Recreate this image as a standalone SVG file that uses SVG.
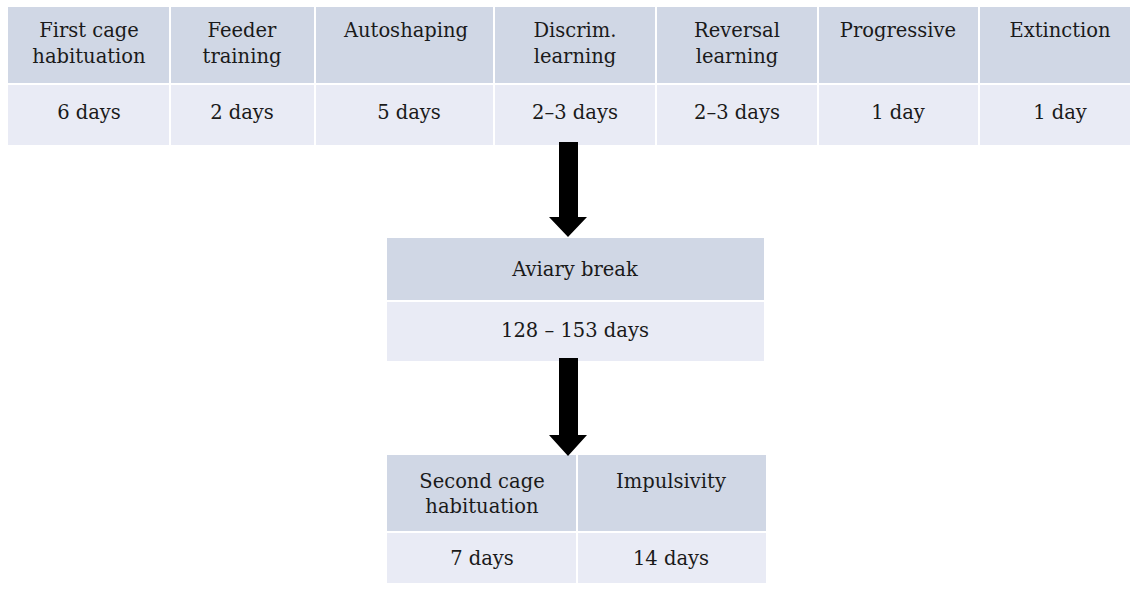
<svg xmlns="http://www.w3.org/2000/svg" width="1130" height="592" viewBox="0 0 1130 592">
<style>
.h{fill:#D0D7E5}
.b{fill:#E9EBF5}
text{font-family:"DejaVu Serif","Liberation Serif",serif;font-size:19.5px;fill:#1a1a1a;text-anchor:middle}
.arr{fill:#000}
</style>
<rect width="1130" height="592" fill="#fff"/>
<g id="top-table">
<g id="c1"><rect class="h" x="8" y="7" width="161" height="76"/><rect class="b" x="8" y="85" width="161" height="60"/>
<text x="89" y="37">First cage</text><text x="89" y="63">habituation</text><text x="89" y="119">6 days</text></g>
<g id="c2"><rect class="h" x="171" y="7" width="143" height="76"/><rect class="b" x="171" y="85" width="143" height="60"/>
<text x="242" y="37">Feeder</text><text x="242" y="63">training</text><text x="242" y="119">2 days</text></g>
<g id="c3"><rect class="h" x="316" y="7" width="177" height="76"/><rect class="b" x="316" y="85" width="177" height="60"/>
<text x="406" y="37">Autoshaping</text><text x="409" y="119">5 days</text></g>
<g id="c4"><rect class="h" x="495" y="7" width="160" height="76"/><rect class="b" x="495" y="85" width="160" height="60"/>
<text x="575" y="37">Discrim.</text><text x="575" y="63">learning</text><text x="575" y="119">2–3 days</text></g>
<g id="c5"><rect class="h" x="657" y="7" width="160" height="76"/><rect class="b" x="657" y="85" width="160" height="60"/>
<text x="737" y="37">Reversal</text><text x="737" y="63">learning</text><text x="737" y="119">2–3 days</text></g>
<g id="c6"><rect class="h" x="819" y="7" width="159" height="76"/><rect class="b" x="819" y="85" width="159" height="60"/>
<text x="898" y="37">Progressive</text><text x="898" y="119">1 day</text></g>
<g id="c7"><rect class="h" x="980" y="7" width="161" height="76"/><rect class="b" x="980" y="85" width="161" height="60"/>
<text x="1060" y="37">Extinction</text><text x="1060" y="119">1 day</text></g>
</g>
<g id="aviary">
<rect class="h" x="387" y="238" width="377" height="62"/><rect class="b" x="387" y="302" width="377" height="59"/>
<text x="575" y="276">Aviary break</text><text x="575" y="337">128 – 153 days</text>
</g>
<g id="bottom-table">
<g id="d1"><rect class="h" x="387" y="455" width="189" height="76"/><rect class="b" x="387" y="533" width="189" height="50"/>
<text x="482" y="488">Second cage</text><text x="482" y="513">habituation</text><text x="482" y="565">7 days</text></g>
<g id="d2"><rect class="h" x="578" y="455" width="188" height="76"/><rect class="b" x="578" y="533" width="188" height="50"/>
<text x="671" y="488">Impulsivity</text><text x="671" y="565">14 days</text></g>
</g>
<g id="connectors">
<polygon class="arr" points="559,142 578,142 578,217 587,217 568,237 549,217 559,217"/>
<polygon class="arr" points="559,358 578,358 578,435 587,435 568,456 549,435 559,435"/>
</g>
</svg>
